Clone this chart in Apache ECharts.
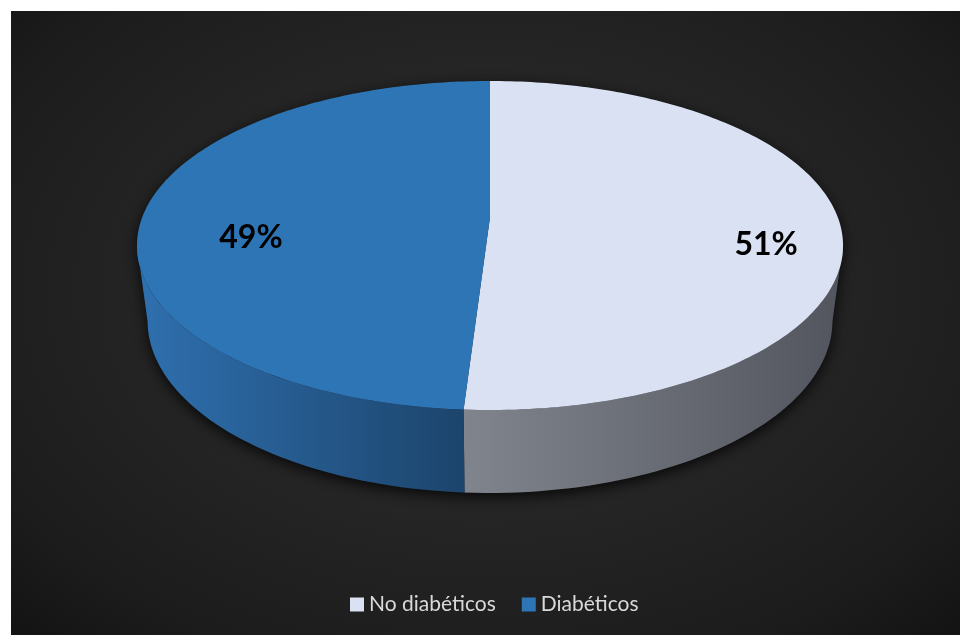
<!DOCTYPE html>
<html>
<head>
<meta charset="utf-8">
<script src="https://cdn.jsdelivr.net/npm/echarts@6/dist/echarts.min.js"></script>
<style>
  html, body { margin: 0; padding: 0; background: #fff; width: 960px; height: 635px; overflow: hidden; }
  #chart {
    position: absolute; left: 11px; top: 11px; width: 949px; height: 624px;
    background: radial-gradient(ellipse 75% 80% at 50% 45%, #292929 0%, #252525 45%, #1c1c1c 78%, #111 100%);
  }
</style>
</head>
<body>
<div id="chart"></div>
<script>
// Data
const categories = ['No diabéticos', 'Diabéticos'];
const values = [51, 49];

// Colours: top face and side wall gradient (light -> dark) per slice
const topColors = ['#d9e1f2', '#2e75b6'];
const sideStops = [['#80848c', '#52555d'], ['#2f70af', '#1c446c']];

// Projected 3D disc (perspective view from above)
const disc = { cx: 479, cy: 206, ax: 347.7, by: 159.6, depth: 76.8, persp: 0.1733, drop: 0.03 };
// flat ellipse used to place the percentage labels
const labelEllipse = { cx: 497.5, cy: 230, rx: 353, ry: 164, frac: 0.73 };

const total = values.reduce((a, b) => a + b, 0);
const TAU = Math.PI * 2;

// theta: clockwise from the far (top) point; t: 0 = top face, 1 = bottom rim
function project(theta, t, r) {
  r = r === undefined ? 1 : r;
  const u = r * Math.sin(theta), v = r * Math.cos(theta);
  const w = 1 + disc.persp * v + disc.drop * t;
  return [disc.cx + disc.ax * u / w, disc.cy + (-disc.by * v + disc.depth * t) / w];
}

function arc(a0, a1, t, steps) {
  const pts = [];
  for (let s = 0; s <= steps; s++) pts.push(project(a0 + (a1 - a0) * s / steps, t));
  return pts;
}

// front-facing range of the outer wall
const frontL = Math.acos(-0.17);
const frontR = TAU - frontL;

function sliceAngles(i) {
  let before = 0;
  for (let k = 0; k < i; k++) before += values[k];
  return [before / total * TAU, (before + values[i]) / total * TAU];
}

function buildSlice(i, api) {
  const val = api.value(0);
  const [a0, a1] = sliceAngles(i);
  const children = [];

  if (i === 0) {
    // drop shadow under the whole disc
    const sil = arc(frontL, frontR, 1, 120).concat(arc(frontR, TAU + frontL, 0, 160));
    children.push({
      type: 'polygon', z2: 0, silent: true,
      shape: { points: sil },
      style: { fill: '#1e1e1e', shadowBlur: 14, shadowColor: 'rgba(0,0,0,0.8)', shadowOffsetY: 4 }
    });
  }

  // outer wall (visible part only)
  const s0 = Math.max(a0, frontL), s1 = Math.min(a1, frontR);
  if (s1 > s0) {
    const n = Math.max(4, Math.round((s1 - s0) / TAU * 240));
    const wall = arc(s0, s1, 0, n).concat(arc(s1, s0, 1, n));
    children.push({
      type: 'polygon', z2: 1, silent: true,
      shape: { points: wall },
      style: {
        fill: {
          type: 'linear', x: 0, y: 0, x2: 1, y2: 0,
          colorStops: [{ offset: 0, color: sideStops[i][0] }, { offset: 1, color: sideStops[i][1] }]
        }
      }
    });
  }

  // top face
  const n = Math.max(4, Math.round((a1 - a0) / TAU * 360));
  const face = [project(0, 0, 0)].concat(arc(a0, a1, 0, n));
  children.push({
    type: 'polygon', z2: 2, silent: true,
    shape: { points: face },
    style: { fill: topColors[i] }
  });

  // percentage label
  const mid = (a0 + a1) / 2;
  const lx = labelEllipse.cx + labelEllipse.rx * labelEllipse.frac * Math.sin(mid);
  const ly = labelEllipse.cy - labelEllipse.ry * labelEllipse.frac * Math.cos(mid);
  children.push({
    type: 'text', z2: 10, silent: true,
    style: {
      text: Math.round(val / total * 100) + '%',
      x: lx, y: ly, align: 'center', verticalAlign: 'middle',
      font: 'bold 32px Lato, "Open Sans", sans-serif', fill: '#000'
    }
  });

  return { type: 'group', children };
}

const chart = echarts.init(document.getElementById('chart'), null, { renderer: 'canvas' });
chart.setOption({
  animation: false,
  backgroundColor: 'transparent',
  legend: {
    data: categories,
    left: 334, top: 578,
    icon: 'rect', itemWidth: 14, itemHeight: 14, itemGap: 26,
    textStyle: { color: '#d9d9d9', fontSize: 21, fontFamily: 'Lato, "Open Sans", sans-serif' },
    selectedMode: false
  },
  series: categories.map((name, i) => ({
    type: 'custom',
    name,
    coordinateSystem: 'none',
    itemStyle: { color: topColors[i] },
    data: [values[i]],
    renderItem: (params, api) => buildSlice(i, api)
  }))
});
</script>
</body>
</html>
